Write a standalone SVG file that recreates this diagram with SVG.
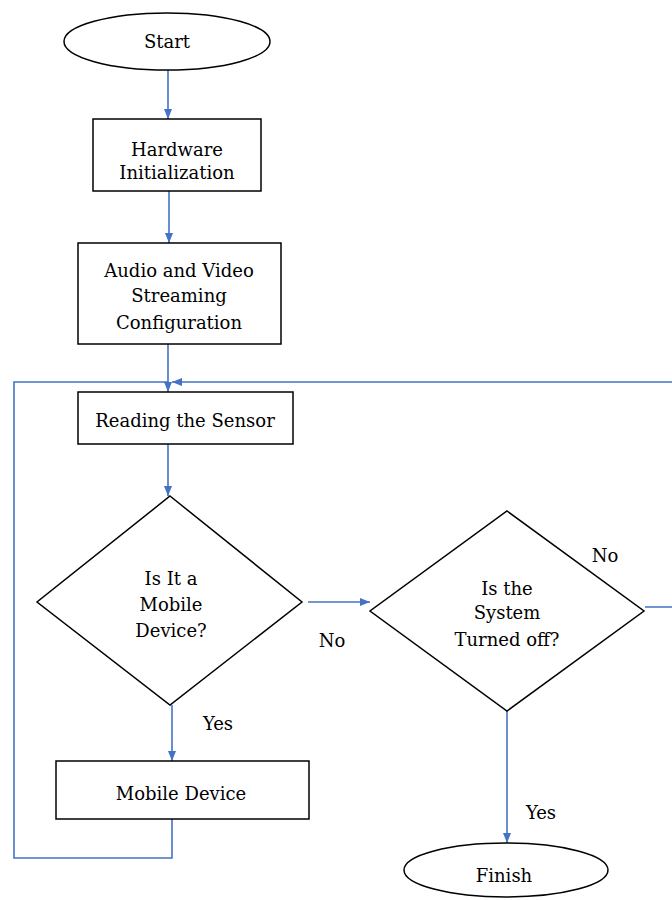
<svg xmlns="http://www.w3.org/2000/svg" width="672" height="900" viewBox="0 0 672 900">
<style>
.n{fill:#fff;stroke:#000;stroke-width:1.5}
.t{font-family:"DejaVu Serif","Liberation Serif",serif;font-size:18px;fill:#000;text-anchor:middle}
.c{fill:none;stroke:#4472C4;stroke-width:1.6}
</style>
<defs>
<marker id="ah" markerUnits="userSpaceOnUse" markerWidth="10" markerHeight="10" viewBox="0 0 10 10" refX="10" refY="5" orient="auto">
<path d="M0,1 L10,5 L0,9 Z" fill="#4472C4"/>
</marker>
</defs>
<rect width="672" height="900" fill="#fff"/>
<g id="connectors">
<path class="c" d="M168,70 V119" marker-end="url(#ah)"/>
<path class="c" d="M169,191 V243" marker-end="url(#ah)"/>
<path class="c" d="M168,344 V392" marker-end="url(#ah)"/>
<path class="c" d="M645,607 H675 V382 H172" marker-end="url(#ah)"/>
<path class="c" d="M172,819 V858 H14 V382 H168"/>
<path class="c" d="M168,444 V496" marker-end="url(#ah)"/>
<path class="c" d="M172,705 V761" marker-end="url(#ah)"/>
<path class="c" d="M308,602 H370" marker-end="url(#ah)"/>
<path class="c" d="M507,711 V843" marker-end="url(#ah)"/>
</g>
<g id="start">
<ellipse class="n" cx="167" cy="41.5" rx="103" ry="28.5"/>
<text class="t" x="167" y="48">Start</text>
</g>
<g id="hardware">
<rect class="n" x="93" y="119" width="168" height="72"/>
<text class="t" x="177" y="156">Hardware</text>
<text class="t" x="177" y="179">Initialization</text>
</g>
<g id="audio">
<rect class="n" x="78" y="243" width="203" height="101"/>
<text class="t" x="179" y="277">Audio and Video</text>
<text class="t" x="179" y="302">Streaming</text>
<text class="t" x="179" y="329">Configuration</text>
</g>
<g id="reading">
<rect class="n" x="78" y="392" width="215" height="52"/>
<text class="t" x="185" y="427">Reading the Sensor</text>
</g>
<g id="decision1">
<polygon class="n" points="170,496 302,602 170,705 37,602"/>
<text class="t" x="171" y="585">Is It a</text>
<text class="t" x="171" y="611">Mobile</text>
<text class="t" x="171" y="637">Device?</text>
</g>
<g id="decision2">
<polygon class="n" points="507,511 644,611 507,711 370,611"/>
<text class="t" x="507" y="595">Is the</text>
<text class="t" x="507" y="619">System</text>
<text class="t" x="507" y="646">Turned off?</text>
</g>
<g id="mobile">
<rect class="n" x="56" y="761" width="253" height="58"/>
<text class="t" x="181" y="800">Mobile Device</text>
</g>
<g id="finish">
<ellipse class="n" cx="506" cy="870" rx="102" ry="27"/>
<text class="t" x="504" y="882">Finish</text>
</g>
<g id="labels">
<text class="t" x="605" y="562">No</text>
<text class="t" x="332" y="647">No</text>
<text class="t" x="218" y="730">Yes</text>
<text class="t" x="541" y="819">Yes</text>
</g>
</svg>
